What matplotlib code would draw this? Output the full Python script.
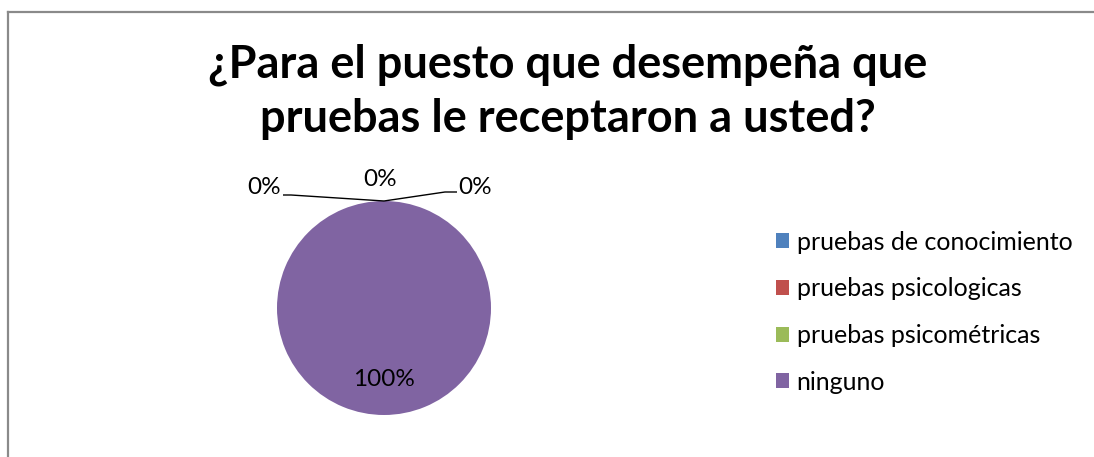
import matplotlib
matplotlib.use("Agg")
import matplotlib.pyplot as plt
from matplotlib.lines import Line2D

title = "¿Para el puesto que desempeña que\npruebas le receptaron a usted?"
categories = ["pruebas de conocimiento", "pruebas psicologicas", "pruebas psicométricas", "ninguno"]
values = [0, 0, 0, 100]
colors = ["#4F81BD", "#C0504D", "#9BBB59", "#8064A2"]

W, H = 1094, 457
dpi = 100
fig = plt.figure(figsize=(W / dpi, H / dpi), dpi=dpi)
fig.patch.set_facecolor("white")
fig.patch.set_edgecolor("white")
fig.patch.set_linewidth(0)
FONT = "Lato"

# chart border: left and top edges only visible
bx, by = 7.5, 12.0
fig.lines.append(Line2D([bx / W, bx / W], [-0.05, 1 - by / H], transform=fig.transFigure,
                        color="#8a8a8a", linewidth=1.6))
fig.lines.append(Line2D([bx / W, 1.05], [1 - by / H, 1 - by / H], transform=fig.transFigure,
                        color="#8a8a8a", linewidth=1.6))

fig.text(568 / W, 1 - 92 / H, title, ha="center", va="center",
         fontsize=32.5, fontweight="bold", family=FONT, linespacing=1.34)

# pie axes: center (384, 308) px, radius 107 px
R = 107.0
cx, cy = 384, 308
half = 200
ax = fig.add_axes([(cx - half) / W, (H - cy - half) / H, 2 * half / W, 2 * half / H])

wedges, _ = ax.pie(values, colors=colors, startangle=90, counterclock=False,
                   radius=1.0, center=(0, 0), frame=True)
ax.set_xlim(-half / R, half / R)
ax.set_ylim(-half / R, half / R)
ax.set_aspect("equal")
ax.axis("off")

def px(x, y):
    return ((x - cx) / R, (cy - y) / R)

total = sum(values)
pct = [f"{round(v / total * 100)}%" for v in values]

LBL = 17.5
lbl_pos = [px(264, 187), px(380, 179), px(475, 187)]
for p, t in zip(lbl_pos, pct[:3]):
    ax.text(p[0], p[1], t, ha="center", va="center", fontsize=LBL, family=FONT, color="#000")

top = (0, 1)
lx = [px(283, 195)[0], px(291, 195)[0], top[0]]
ly = [px(283, 195)[1], px(291, 195)[1], top[1]]
ax.plot(lx, ly, color="black", linewidth=1, solid_capstyle="butt")
rx = [top[0], px(445, 192)[0], px(457, 192)[0]]
ry = [top[1], px(445, 192)[1], px(457, 192)[1]]
ax.plot(rx, ry, color="black", linewidth=1, solid_capstyle="butt")

p = px(384, 380)
ax.text(p[0], p[1], pct[3], ha="center", va="center", fontsize=LBL, family=FONT, color="#000")

leg = fig.legend(wedges, categories, loc="upper left",
                 bbox_to_anchor=(763 / W, 1 - 218 / H), frameon=False,
                 prop={"family": FONT, "size": 18}, handlelength=0.55, handleheight=0.55,
                 handletextpad=0.3, labelspacing=0.95, borderpad=0)

fig.savefig("out.png", dpi=dpi, facecolor="white", edgecolor="white")
